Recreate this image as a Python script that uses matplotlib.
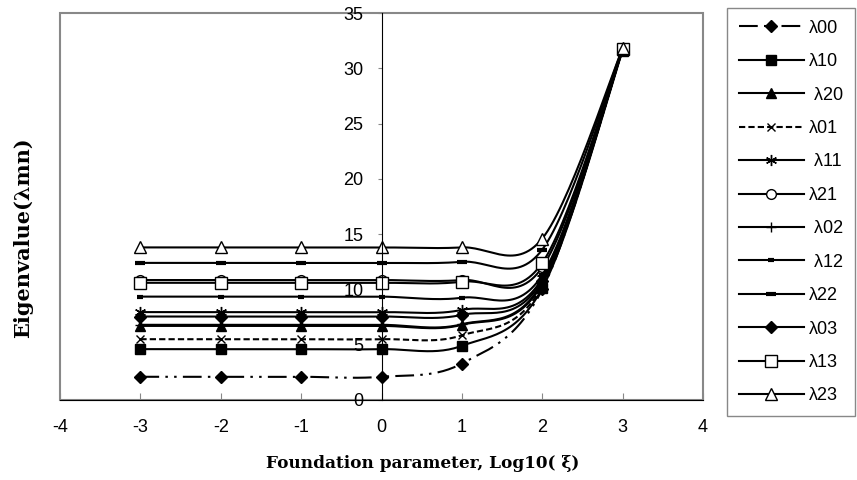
import numpy as np
import matplotlib.pyplot as plt
from matplotlib.patches import Rectangle

plt.rcParams['axes.unicode_minus'] = False

# data
x_vals = [-3, -2, -1, 0, 1, 2, 3]
lam00 = [2.1, 2.1, 2.1, 2.1, 3.3, 10.0, 31.7]
lam10 = [4.6, 4.6, 4.6, 4.6, 4.9, 10.1, 31.6]
lam20 = [6.7, 6.7, 6.7, 6.7, 6.8, 10.5, 31.7]
lam01 = [5.5, 5.5, 5.5, 5.5, 5.85, 10.3, 31.7]
lam11 = [7.95, 7.95, 7.95, 7.95, 8.15, 11.0, 31.8]
lam21 = [10.85, 10.85, 10.85, 10.85, 10.85, 12.0, 31.8]
lam02 = [6.8, 6.8, 6.8, 6.8, 6.85, 10.6, 31.7]
lam12 = [9.35, 9.35, 9.35, 9.35, 9.25, 11.3, 31.7]
lam22 = [12.4, 12.4, 12.4, 12.4, 12.5, 13.6, 31.8]
lam03 = [7.55, 7.55, 7.55, 7.55, 7.7, 10.8, 31.7]
lam13 = [10.6, 10.6, 10.6, 10.6, 10.7, 12.4, 31.7]
lam23 = [13.8, 13.8, 13.8, 13.8, 13.8, 14.6, 31.8]

labels = ['λ00', 'λ10', ' λ20', 'λ01', ' λ11', 'λ21', ' λ02',
          ' λ12', 'λ22', 'λ03', 'λ13', 'λ23']
series = [lam00, lam10, lam20, lam01, lam11, lam21, lam02,
          lam12, lam22, lam03, lam13, lam23]

styles = [
    dict(marker='D', ms=6, mfc='black', dashes=(9, 3, 1.2, 3, 1.2, 3)),
    dict(marker='s', ms=7, mfc='black'),
    dict(marker='^', ms=7, mfc='black'),
    dict(marker='x', ms=6, mfc='black', dashes=(3, 1.5)),
    dict(marker=(6, 2, 0), ms=8, mfc='black'),
    dict(marker='o', ms=7, mfc='white'),
    dict(marker='+', ms=7, mfc='black'),
    dict(marker='_', ms=4, mfc='black', mew=3),
    dict(marker='_', ms=7, mfc='black', mew=3),
    dict(marker='D', ms=6, mfc='black'),
    dict(marker='s', ms=8, mfc='white'),
    dict(marker='^', ms=8, mfc='white'),
]

N = 30


def smooth(xs, ys, n=N):
    # bezier smoothing like the spreadsheet "smoothed line" option
    pts = np.column_stack([xs, ys]).astype(float)
    out = []
    t = np.linspace(0, 1, n, endpoint=False)[:, None]
    for i in range(len(pts) - 1):
        p0 = pts[i - 1] if i > 0 else pts[i]
        p1, p2 = pts[i], pts[i + 1]
        p3 = pts[i + 2] if i + 2 < len(pts) else pts[i + 1]
        c1 = p1 + (p2 - p0) / 6
        c2 = p2 - (p3 - p1) / 6
        seg = (1 - t) ** 3 * p1 + 3 * (1 - t) ** 2 * t * c1 + 3 * (1 - t) * t ** 2 * c2 + t ** 3 * p2
        out.append(seg)
    out.append(pts[-1:])
    return np.vstack(out)


fig = plt.figure(figsize=(8.57, 4.8), dpi=100)
ax = fig.add_axes([60 / 857, 80 / 480, 643 / 857, 387 / 480])

marks = list(range(0, N * (len(x_vals) - 1) + 1, N))
for ys, lab, st in zip(series, labels, styles):
    st = dict(st)
    dashes = st.pop('dashes', None)
    mew = st.pop('mew', 1.0)
    curve = smooth(x_vals, ys)
    line, = ax.plot(curve[:, 0], curve[:, 1], color='black', lw=1.5,
                    markevery=marks, mec='black', mew=mew, label=lab, **st)
    if dashes is not None:
        line.set_dashes(dashes)

ax.set_xlim(-4, 4)
ax.set_ylim(0, 35)
ax.set_xticks(range(-4, 5))
ax.set_yticks(range(0, 36, 5))

ax.spines['left'].set_position(('data', 0))
ax.spines['left'].set_color('black')
ax.spines['bottom'].set_color('black')
ax.spines['top'].set_visible(False)
ax.spines['right'].set_visible(False)
ax.add_patch(Rectangle((0, 0), 1, 1, transform=ax.transAxes, fill=False,
                       edgecolor='#888888', lw=1.5, clip_on=False, zorder=0))

ax.tick_params(axis='x', direction='in', length=5, color='#888888',
               pad=14, labelsize=13)
ax.tick_params(axis='y', direction='out', length=3, color='#888888',
               pad=10, labelsize=13)
for lbl in ax.get_xticklabels() + ax.get_yticklabels():
    lbl.set_fontfamily('Liberation Sans')

fig.text(423 / 857, 1 - 463 / 480, 'Foundation parameter, Log10( ξ)',
         ha='center', va='center', fontsize=12.2, fontweight='bold',
         family='DejaVu Serif')
fig.text(23 / 857, 1 - 238 / 480, 'Eigenvalue(λmn)', rotation=90,
         ha='center', va='center', fontsize=15, fontweight='bold',
         family='DejaVu Serif')

leg = fig.legend(loc='upper left', bbox_to_anchor=(727 / 857, 1 - 8 / 480),
                 prop={'family': 'Liberation Sans', 'size': 13},
                 handlelength=3.6, handletextpad=0.3, borderpad=0.65,
                 labelspacing=0.91, fancybox=False, framealpha=1,
                 edgecolor='#888888', borderaxespad=0)
leg.get_frame().set_linewidth(1.0)

fig.savefig('out.png', dpi=100)
